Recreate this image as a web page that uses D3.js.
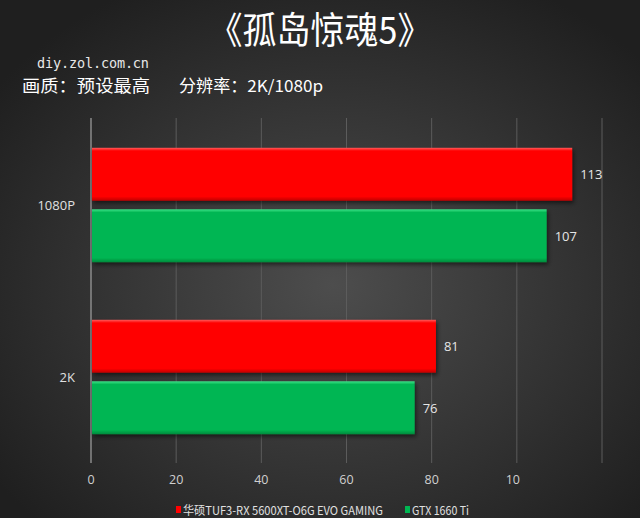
<!DOCTYPE html>
<html><head><meta charset="utf-8">
<script src="https://cdn.jsdelivr.net/npm/d3@7"></script>
<style>html,body{margin:0;padding:0;background:#2a2a2a;}svg{display:block;}</style>
</head><body>
<script>
const categories = ["1080P", "2K"];
const seriesNames = ["华硕TUF3-RX 5600XT-O6G  EVO GAMING", "GTX 1660 Ti"];
const seriesA = [113, 81];
const seriesB = [107, 76];
const xTicks = [0, 20, 40, 60, 80, 100, 120];
const xTickLabels = ["0", "20", "40", "60", "80", "10", ""];
const title = "《孤岛惊魂5》";
const site = "diy.zol.com.cn";
const subtitleParts = ["画质：预设最高", "分辨率：2K/1080p"];

const W = 640, H = 518;
const svg = d3.select("body").append("svg").attr("width", W).attr("height", H);
const defs = svg.append("defs");
const bg = defs.append("radialGradient").attr("id","bg").attr("cx","52%").attr("cy","55%").attr("r","65%");
bg.append("stop").attr("offset","0%").attr("stop-color","#4d4d4d");
bg.append("stop").attr("offset","100%").attr("stop-color","#1f1f1f");
svg.append("rect").attr("width",W).attr("height",H).attr("fill","url(#bg)");

const colors = ["#ff0000", "#00b652"];
const light = ["#ff5a5a", "#3ee48a"];
const dark = ["#c00000", "#008a3c"];
colors.forEach((c,i)=>{
  const g = defs.append("linearGradient").attr("id","bar"+i).attr("x1",0).attr("y1",0).attr("x2",0).attr("y2",1);
  g.append("stop").attr("offset","0%").attr("stop-color",light[i]);
  g.append("stop").attr("offset","6%").attr("stop-color",c);
  g.append("stop").attr("offset","92%").attr("stop-color",c);
  g.append("stop").attr("offset","100%").attr("stop-color",dark[i]);
});
const f = defs.append("filter").attr("id","sh").attr("x","-5%").attr("y","-20%").attr("width","115%").attr("height","150%");
f.append("feDropShadow").attr("dx",1.5).attr("dy",2.5).attr("stdDeviation",2).attr("flood-color","#000").attr("flood-opacity",0.55);

const x = d3.scaleLinear().domain([0, 120]).range([91, 602]);
const y = d3.scaleBand().domain(categories).range([119, 463]).paddingInner(0.335).paddingOuter(0.1675);
const ys = d3.scaleBand().domain([0,1]).range([0, y.bandwidth()]).paddingInner(0.14);

// gridlines
svg.append("g").selectAll("line").data(xTicks).join("line")
  .attr("x1", d=>x(d)).attr("x2", d=>x(d)).attr("y1", 118).attr("y2", 463)
  .attr("stroke", d=> d===0 ? "#9a9a9a" : "#5c5c5c").attr("stroke-width", d=> d===0?1.3:1);

// tick labels
svg.append("g").selectAll("text").data(xTicks).join("text")
  .attr("x", (d,i)=> x(d) - (xTickLabels[i]==="10"?4:0)).attr("y", 484).attr("text-anchor","middle")
  .attr("fill","#d0d0d0").attr("font-family","'Open Sans', 'Noto Sans', sans-serif").attr("font-size",12.5)
  .text((d,i)=>xTickLabels[i]);

// category labels
svg.append("g").selectAll("text").data(categories).join("text")
  .attr("x", 75).attr("y", d=> y(d) + y.bandwidth()/2 + 4.5).attr("text-anchor","end")
  .attr("fill","#e0e0e0").attr("font-family","'Open Sans', 'Noto Sans', sans-serif").attr("font-size",13)
  .text(d=>d);

const data = [];
categories.forEach((c,ci)=>{
  data.push({cat:c, s:0, v:seriesA[ci]});
  data.push({cat:c, s:1, v:seriesB[ci]});
});
svg.append("g").selectAll("rect").data(data).join("rect")
  .attr("x", x(0)+1).attr("y", d=> y(d.cat)+ys(d.s))
  .attr("width", d=> x(d.v)-x(0)-1).attr("height", ys.bandwidth())
  .attr("fill", d=>"url(#bar"+d.s+")").attr("filter","url(#sh)");

svg.append("g").selectAll("text").data(data).join("text")
  .attr("x", d=> x(d.v)+8).attr("y", d=> y(d.cat)+ys(d.s)+ys.bandwidth()/2+5)
  .attr("fill","#e6e6e6").attr("font-family","'Open Sans', 'Noto Sans', sans-serif").attr("font-size",13)
  .text(d=>d.v);

// titles
svg.append("text").attr("x", 320).attr("y", 44).attr("text-anchor","middle")
  .attr("fill","#ffffff").attr("font-family","'Noto Sans CJK SC', sans-serif").attr("font-size",37)
  .attr("font-weight", 400)
  .attr("transform","translate(320,0) scale(0.92,1) translate(-320,0)")
  .text(title);
svg.append("text").attr("x", 37).attr("y", 68)
  .attr("fill","#e8e8e8").attr("font-family","'DejaVu Sans Mono', monospace").attr("font-size",13.5)
  .attr("textLength", 112).text(site);
svg.append("text").attr("x", 22).attr("y", 92)
  .attr("fill","#ffffff").attr("font-family","'Noto Sans CJK SC', sans-serif").attr("font-size",16.5)
  .attr("textLength", 128).attr("lengthAdjust","spacingAndGlyphs").text(subtitleParts[0]);
svg.append("text").attr("x", 179).attr("y", 92)
  .attr("fill","#ffffff").attr("font-family","'Noto Sans CJK SC', sans-serif").attr("font-size",16.5)
  .attr("textLength", 144).attr("lengthAdjust","spacingAndGlyphs").text(subtitleParts[1]);

// legend
const leg = [{x:176, name:seriesNames[0]}, {x:405, name:seriesNames[1]}];
leg.forEach((l,i)=>{
  svg.append("rect").attr("x", l.x).attr("y", 506).attr("width",5).attr("height",7).attr("fill", colors[i]);
  svg.append("text").attr("x", l.x+7).attr("y", 515)
    .attr("fill","#e0e0e0").attr("font-family","'Noto Sans CJK SC', 'Open Sans', sans-serif").attr("font-size",12)
    .attr("textLength", i===0 ? 200 : 57).attr("lengthAdjust","spacingAndGlyphs")
    .text(l.name);
});
</script>
</body></html>
